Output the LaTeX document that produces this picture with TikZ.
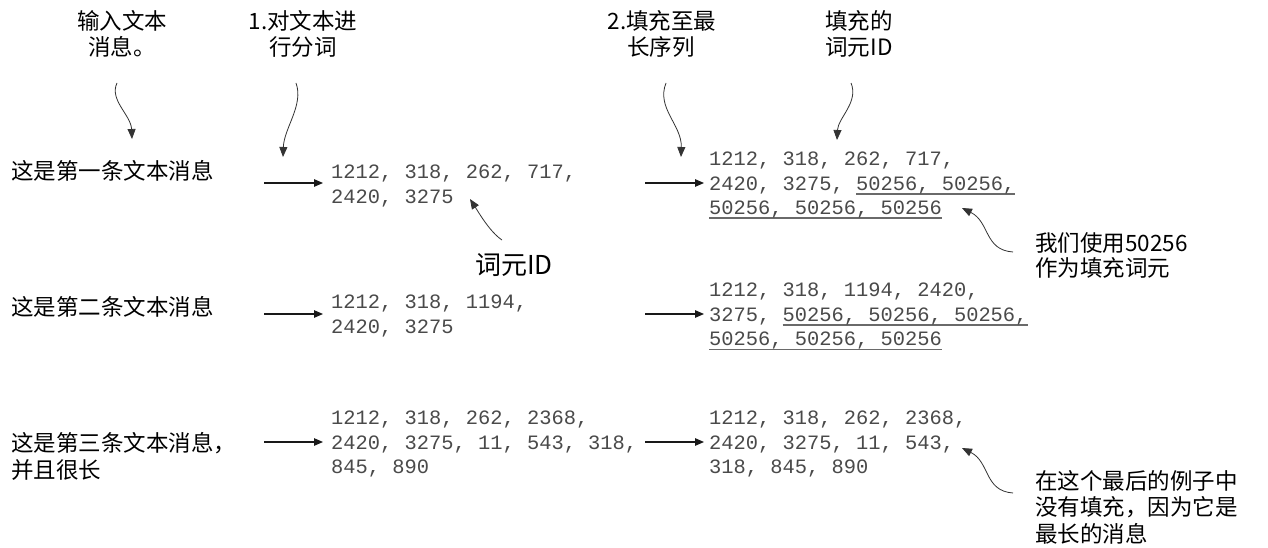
\documentclass[tikz,border=0pt]{standalone}
\usepackage{fontspec}
\newfontfamily\cjk{Noto Sans CJK SC}
\newfontfamily\numf{Liberation Mono}
\usetikzlibrary{arrows.meta}
\definecolor{numgray}{HTML}{4A4A4A}
\definecolor{ulgray}{HTML}{6A6A6A}
\newcommand\padul[1]{\setbox0\hbox{#1}\rlap{\color{ulgray}\rule[-4.5pt]{\wd0}{1.5pt}}\box0}
\tikzset{
  lbl/.style={font=\cjk\fontsize{22.5}{26}\selectfont, inner sep=0pt, anchor=base},
  lblw/.style={lbl, anchor=base west},
  nums/.style={font=\numf\fontsize{20.4}{25}\selectfont, text=numgray, inner sep=0pt, anchor=base west},
  arr/.style={-{Triangle[length=9pt,width=7.5pt]}, line width=1.1pt, draw=black!90},
  curvy/.style={-{Triangle[length=10pt,width=8pt]}, line width=0.8pt, draw=black!80},
}
\begin{document}
\begin{tikzpicture}[x=1pt,y=-1pt]
\useasboundingbox (0,0) rectangle (1268,548);
\fill[white] (0,0) rectangle (1268,548);

% top labels
\node[lbl] (l1a) at (122,29.3) {输入文本};
\node[lbl] (l1b) at (122,55.8) {消息。};
\node[lbl] (l2a) at (303,29.3) {1.对文本进};
\node[lbl] (l2b) at (303,55.8) {行分词};
\node[lbl] (l3a) at (662,29.3) {2.填充至最};
\node[lbl] (l3b) at (661,55.8) {长序列};
\node[lbl] (l4a) at (859,29.3) {填充的};
\node[lbl] (l4b) at (859,55.8) {词元ID};

% messages
\node[lblw] (m1) at (11,179.8) {这是第一条文本消息};
\node[lblw] (m2) at (11,315.3) {这是第二条文本消息};
\node[lblw] (m3a) at (11,451.3) {这是第三条文本消息，};
\node[lblw] (m3b) at (11,478.3) {并且很长};

% token ids (left)
\node[nums] (t1a) at (331,178.3) {1212, 318, 262, 717,};
\node[nums] (t1b) at (331,203.3) {2420, 3275};
\node[nums] (t2a) at (331,308.3) {1212, 318, 1194,};
\node[nums] (t2b) at (331,333.3) {2420, 3275};
\node[nums] (t3a) at (331,424.3) {1212, 318, 262, 2368,};
\node[nums] (t3b) at (331,449) {2420, 3275, 11, 543, 318,};
\node[nums] (t3c) at (331,473.5) {845, 890};

% padded (right)
\node[nums] (p1a) at (709,165.5) {1212, 318, 262, 717,};
\node[nums] (p1b) at (709,190) {2420, 3275, \padul{50256, 50256,}};
\node[nums] (p1c) at (709,214.5) {\padul{50256, 50256, 50256}};
\node[nums] (p2a) at (709,296.3) {1212, 318, 1194, 2420,};
\node[nums] (p2b) at (709,321) {3275, \padul{50256, 50256, 50256,}};
\node[nums] (p2c) at (709,345.5) {\padul{50256, 50256, 50256}};
\node[nums] (p3a) at (709,424.3) {1212, 318, 262, 2368,};
\node[nums] (p3b) at (709,449) {2420, 3275, 11, 543,};
\node[nums] (p3c) at (709,473.5) {318, 845, 890};

% annotations
\node[lbl, font=\cjk\fontsize{26}{30}\selectfont] (tid) at (514,274.6) {词元ID};
\node[lblw] (pa) at (1035,251.3) {我们使用50256};
\node[lblw] (pb) at (1035,276.3) {作为填充词元};
\node[lblw] (na) at (1035,489.3) {在这个最后的例子中};
\node[lblw] (nb) at (1035,515.3) {没有填充，因为它是};
\node[lblw] (nc) at (1035,542.3) {最长的消息};

% straight arrows
\coordinate (s1) at (264,183);  \coordinate (e1) at (323,183);
\coordinate (s2) at (645,183);  \coordinate (e2) at (704,183);
\coordinate (s3) at (264,314);  \coordinate (e3) at (323,314);
\coordinate (s4) at (645,314);  \coordinate (e4) at (704,314);
\coordinate (s5) at (264,442);  \coordinate (e5) at (323,442);
\coordinate (s6) at (645,442);  \coordinate (e6) at (704,442);
\draw[arr] (s1) -- (e1);
\draw[arr] (s2) -- (e2);
\draw[arr] (s3) -- (e3);
\draw[arr] (s4) -- (e4);
\draw[arr] (s5) -- (e5);
\draw[arr] (s6) -- (e6);

% curvy arrows
\coordinate (c1s) at (117,83);  \coordinate (c1e) at (132,139);
\coordinate (c2s) at (296,83);  \coordinate (c2e) at (283,157);
\coordinate (c3s) at (666,83);  \coordinate (c3e) at (681,157);
\coordinate (c4s) at (851,83);  \coordinate (c4e) at (837,140);
\coordinate (c5s) at (502,240); \coordinate (c5e) at (470,199);
\coordinate (c6s) at (1013,252); \coordinate (c6e) at (962,208);
\coordinate (c7s) at (1013,493); \coordinate (c7e) at (962,448);
\draw[curvy] (c1s) .. controls (109,100) and (131,115) .. (c1e);
\draw[curvy] (c2s) .. controls (304,105) and (284,128) .. (c2e);
\draw[curvy] (c3s) .. controls (656,108) and (682,125) .. (c3e);
\draw[curvy] (c4s) .. controls (859,102) and (838,118) .. (c4e);
\draw[curvy] (c5s) .. controls (490,232) and (479,213) .. (c5e);
\draw[curvy] (c6s) .. controls (984,250) and (990,222) .. (c6e);
\draw[curvy] (c7s) .. controls (984,491) and (990,462) .. (c7e);
\end{tikzpicture}
\end{document}
